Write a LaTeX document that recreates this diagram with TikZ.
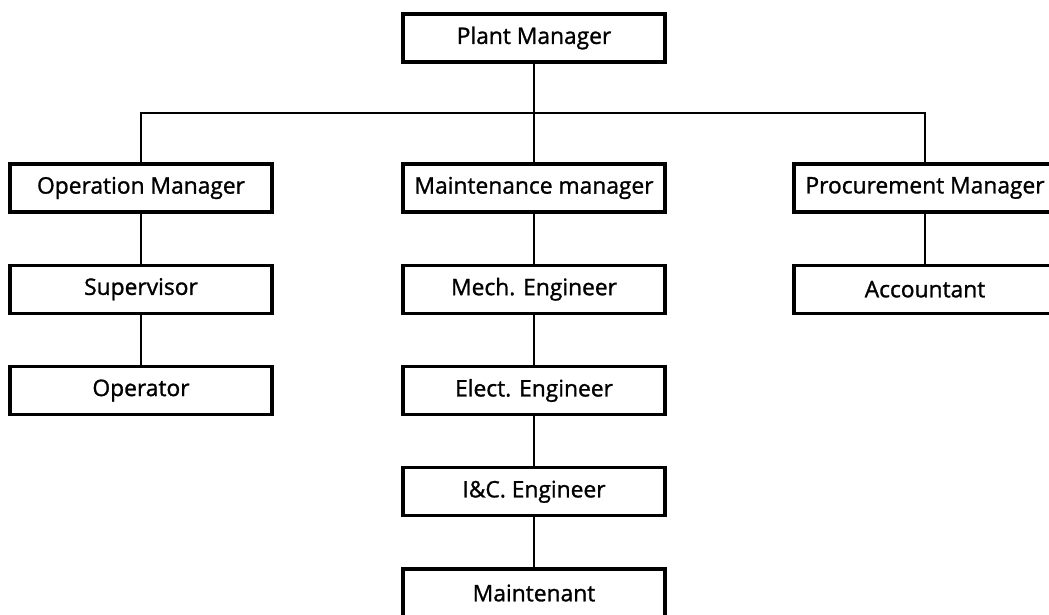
\documentclass[tikz,border=0pt]{standalone}
\usepackage{fontspec}
\setmainfont{Open Sans}
\newfontfamily\postfont[FakeBold=1.2]{Open Sans}
\usetikzlibrary{positioning,calc}
\tikzstyle{post} = [draw,line width=2.3pt,minimum width=6.55cm,minimum height=1.2cm,inner sep=0pt,font=\postfont\fontsize{16.2}{19}\selectfont]
\tikzstyle{link} = [line width=1.3pt]

\begin{document}
\begin{tikzpicture}[x=0.025cm,y=-0.025cm,node distance=1.25cm]
    \clip (0,0) rectangle (1049,615);
    \fill [white] (0,0) rectangle (1049,615);

    % top and the three managers
    \node [post] (plant) at (534,38) {Plant Manager};
    \node [post] (oper) at (141,188) {Operation Manager};
    \node [post] (maint) at (534,188) {Maintenance manager};
    \node [post] (proc) at (925,188) {Procurement Manager};

    % left column
    \node [post,below=of oper] (sup) {Supervisor};
    \node [post,below=of sup] (op) {Operator};

    % middle column
    \node [post,below=of maint] (mech) {Mech. Engineer};
    \node [post,below=of mech] (elec) {Elect. Engineer};
    \node [post,below=of elec] (ic) {I\&C. Engineer};
    \node [post,below=of ic] (mnt) {Maintenant};

    % right column
    \node [post,below=of proc] (acc) {Accountant};

    \draw [link] (plant) -- (maint);
    \draw [link] (oper) |- ($(plant.south)!0.5!(maint.north)$) -| (proc);
    \draw [link] (oper) -- (sup);
    \draw [link] (sup) -- (op);
    \draw [link] (maint) -- (mech);
    \draw [link] (mech) -- (elec);
    \draw [link] (elec) -- (ic);
    \draw [link] (ic) -- (mnt);
    \draw [link] (proc) -- (acc);
\end{tikzpicture}
\end{document}
